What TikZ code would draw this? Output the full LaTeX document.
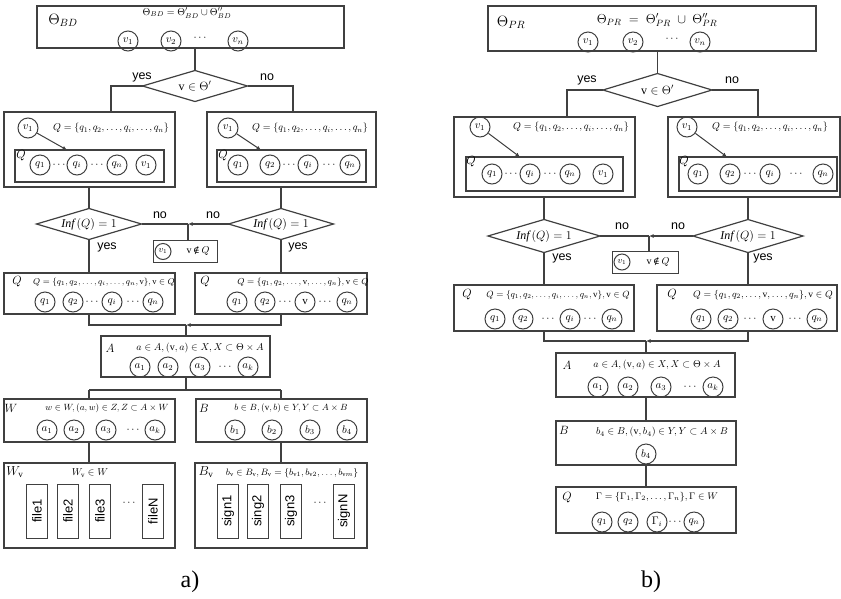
\documentclass[tikz,border=0pt]{standalone}
\usepackage{fix-cm}
\usepackage{graphicx}
\usepackage{fontspec}
\setmainfont{Liberation Serif}
\newfontfamily\arialf{Liberation Sans}
\newfontfamily\djs{DejaVu Serif}
\usetikzlibrary{shapes.geometric,arrows.meta}
\definecolor{linec}{gray}{0.25}
\newcommand{\nelem}{\mathrm{v}\,\mbox{\djs\fontsize{9}{9}\selectfont ∉}\,Q}
\begin{document}
\begin{tikzpicture}[x=1pt,y=-1pt,
  box/.style={draw=linec,line width=1.2pt,inner sep=0,outer sep=0},
  dia/.style={draw=linec,line width=1.2pt,diamond,aspect=3.4,inner sep=0,outer sep=0,font=\fontsize{12}{12}\selectfont},
  cn/.style={draw=linec,line width=1pt,circle,minimum size=20pt,inner sep=0,font=\fontsize{11}{11}\selectfont},
  cs/.style={cn,minimum size=16pt,font=\fontsize{9}{9}\selectfont},
  fm/.style={inner sep=0,font=\fontsize{10}{12}\selectfont},
  fs/.style={inner sep=0,font=\fontsize{9}{11}\selectfont},
  lb/.style={inner sep=0,font=\fontsize{13}{14}\selectfont},
  ql/.style={inner sep=0,font=\fontsize{12}{12}\selectfont},
  big/.style={inner sep=0,font=\fontsize{15}{16}\selectfont},
  yn/.style={inner sep=0,font=\arialf\fontsize{12.5}{13}\selectfont},
  dd/.style={inner sep=0,font=\fontsize{11}{11}\selectfont},
  fb/.style={box,line width=1pt,minimum width=21pt,minimum height=54pt,font=\arialf\fontsize{13}{13}\selectfont},
  ln/.style={draw=linec,line width=1.2pt},
  ar/.style={ln,-{Latex[length=4.5pt,width=4pt]}},
  captxt/.style={inner sep=0,font=\fontsize{24}{24}\selectfont}
]
\useasboundingbox (0,0) rectangle (841,598);

%================ LEFT (a) ================
\node[box,minimum width=307pt,minimum height=42pt] (TL) at (190.5,27) {};
\node[big] (TLlab) at (63,20) {$\Theta_{BD}$};
\node[fm] (TLf) at (187,13) {$\Theta_{BD}=\Theta'_{BD}\cup\Theta''_{BD}$};
\node[cn] (TLv1) at (128,41) {$v_1$};
\node[cn] (TLv2) at (171,41) {$v_2$};
\node[dd] (TLd) at (200,38) {$\cdots$};
\node[cn] (TLvn) at (238,41) {$v_n$};

\node[dia,minimum width=105pt,minimum height=31pt] (D1) at (195,86) {$\mathrm{v}\in\Theta'$};
\draw[ln] (TL.south -| D1.north) -- (D1.north);
\coordinate (yL) at (111,112);
\coordinate (nL) at (293,112);
\draw[ln] (D1.west) -| (yL);
\draw[ln] (D1.east) -| (nL);
\node[yn] (yes1) at (142,77) {yes};
\node[yn] (no1) at (267,77) {no};

\node[box,minimum width=171pt,minimum height=75pt] (Q1L) at (89.5,149.5) {};
\node[box,minimum width=169pt,minimum height=75pt] (Q1R) at (291.5,149.5) {};
\node[box,minimum width=149pt,minimum height=32pt] (I1L) at (89.5,166) {};
\node[box,minimum width=149pt,minimum height=32pt] (I1R) at (291.5,166) {};

\node[cn] (Lv) at (28,128) {$v_1$};
\node[fm] (Lf) at (111,128) {$Q=\{q_1,q_2,\dots,q_i,\dots,q_n\}$};
\coordinate (Lt) at (67,150);
\draw[ar,line width=1pt] (Lv) -- (Lt);
\node[ql] (LQ) at (21,156) {$Q$};
\node[cn] (Lq1) at (40,165) {$q_1$};
\node[dd] (Ld1) at (59,165) {$\cdots$};
\node[cn] (Lqi) at (77,165) {$q_i$};
\node[dd] (Ld2) at (97,165) {$\cdots$};
\node[cn] (Lqn) at (117,165) {$q_n$};
\node[cn] (Lv1) at (146,165) {$v_1$};

\node[cn] (Rv) at (228,128) {$v_1$};
\node[fm] (Rf) at (310,128) {$Q=\{q_1,q_2,\dots,q_i,\dots,q_n\}$};
\coordinate (Rt) at (261,150);
\draw[ar,line width=1pt] (Rv) -- (Rt);
\node[ql] (RQ) at (223,156) {$Q$};
\node[cn] (Rq1) at (238,165) {$q_1$};
\node[cn] (Rq2) at (270,165) {$q_2$};
\node[dd] (Rd1) at (289,165) {$\cdots$};
\node[cn] (Rqi) at (308,165) {$q_i$};
\node[dd] (Rd2) at (329,165) {$\cdots$};
\node[cn] (Rqn) at (350,165) {$q_n$};

\node[dia,minimum width=105pt,minimum height=31pt] (D2L) at (89,224) {$\mathit{Inf}\,(Q)=1$};
\node[dia,minimum width=105pt,minimum height=31pt] (D2R) at (281,224) {$\mathit{Inf}\,(Q)=1$};
\draw[ln] (D2L.north |- Q1L.south) -- (D2L.north);
\draw[ln] (D2R.north |- Q1R.south) -- (D2R.north);
\coordinate (JL) at (188,224);
\node[box,line width=1pt,minimum width=64pt,minimum height=22pt] (SL) at (185,251.5) {};
\node[cs] (SLv) at (163,251.5) {$v_1$};
\node[fm] (SLt) at (198,251.5) {$\nelem$};
\draw[ar] (D2R.west) -- (JL);
\draw[ln] (D2L.east) -- (JL);
\draw[ln] (JL) -- (JL |- SL.north);
\node[yn] (no2) at (160,215) {no};
\node[yn] (no3) at (213,215) {no};
\node[yn] (yes2) at (107,247) {yes};
\node[yn] (yes3) at (298,247) {yes};

\node[box,minimum width=171pt,minimum height=41pt] (Q2L) at (89.5,293.5) {};
\node[box,minimum width=172pt,minimum height=41pt] (Q2R) at (281,293.5) {};
\draw[ln] (D2L.south) -- (D2L.south |- Q2L.north);
\draw[ln] (D2R.south) -- (D2R.south |- Q2R.north);
\node[ql] (Q2Llab) at (17,282) {$Q$};
\node[inner sep=0,font=\fontsize{8.5}{10}\selectfont] (Q2Lf) at (104,282) {$Q=\{q_1,q_2,\dots,q_i,\dots,q_n,\mathrm{v}\},\mathrm{v}\in Q$};
\node[cn] (m1) at (45,302) {$q_1$};
\node[cn] (m2) at (73,302) {$q_2$};
\node[dd] (m3) at (92,302) {$\cdots$};
\node[cn] (m4) at (112,302) {$q_i$};
\node[dd] (m5) at (133,302) {$\cdots$};
\node[cn] (m6) at (153,302) {$q_n$};
\node[ql] (Q2Rlab) at (205,282) {$Q$};
\node[inner sep=0,font=\fontsize{8.7}{10}\selectfont] (Q2Rf) at (303,282) {$Q=\{q_1,q_2,\dots,\mathrm{v},\dots,q_n\},\mathrm{v}\in Q$};
\node[cn] (n1) at (237,302) {$q_1$};
\node[cn] (n2) at (265,302) {$q_2$};
\node[dd] (n3) at (285,302) {$\cdots$};
\node[cn] (n4) at (305,302) {$\mathrm{v}$};
\node[dd] (n5) at (325,302) {$\cdots$};
\node[cn] (n6) at (347,302) {$q_n$};

\node[box,minimum width=169pt,minimum height=41pt] (A) at (185.5,356.5) {};
\coordinate (M1L) at (89,325);
\coordinate (M1R) at (281,325);
\coordinate (MJ) at (186,325);
\draw[ln] (D2L.south |- Q2L.south) -- (M1L) -- (MJ);
\draw[ar] (D2R.south |- Q2R.south) -- (M1R) -- (MJ);
\draw[ln] (MJ) -- (MJ |- A.north);
\node[ql] (Alab) at (110,348) {$A$};
\node[fm] (Af) at (200,348) {$a\in A,(\mathrm{v},a)\in X,X\subset\Theta\times A$};
\node[cn] (a1) at (140,367) {$a_1$};
\node[cn] (a2) at (168,367) {$a_2$};
\node[cn] (a3) at (200,367) {$a_3$};
\node[dd] (a4) at (225,367) {$\cdots$};
\node[cn] (a5) at (248,367) {$a_k$};

\node[box,minimum width=171pt,minimum height=43pt] (W) at (89.5,420.5) {};
\node[box,minimum width=171pt,minimum height=43pt] (B) at (281.5,420.5) {};
\coordinate (S) at (186,390);
\coordinate (S1L) at (89,390);
\coordinate (S1R) at (281,390);
\draw[ln] (MJ |- A.south) -- (S);
\draw[ln] (S1L) -- (S1R);
\draw[ln] (S1L) -- (S1L |- W.north);
\draw[ln] (S1R) -- (S1R |- B.north);
\node[ql] (Wlab) at (11,408) {$W$};
\node[fs] (Wf) at (107,408) {$w\in W,(a,w)\in Z,Z\subset A\times W$};
\node[cn] (w1) at (47,430) {$a_1$};
\node[cn] (w2) at (74,430) {$a_2$};
\node[cn] (w3) at (106,430) {$a_3$};
\node[dd] (w4) at (133,430) {$\cdots$};
\node[cn] (w5) at (155,430) {$a_k$};
\node[ql] (Blab) at (204,408) {$B$};
\node[fs] (Bf) at (291,408) {$b\in B,(\mathrm{v},b)\in Y,Y\subset A\times B$};
\node[cn] (b1) at (235,430) {$b_1$};
\node[cn] (b2) at (272,430) {$b_2$};
\node[cn] (b3) at (310,430) {$b_3$};
\node[cn] (b4) at (347,430) {$b_4$};

\node[box,minimum width=171pt,minimum height=85pt] (Wv) at (89.5,505.5) {};
\node[box,minimum width=172pt,minimum height=85pt] (Bv) at (281,505.5) {};
\draw[ln] (S1L |- W.south) -- (S1L |- Wv.north);
\draw[ln] (S1R |- B.south) -- (S1R |- Bv.north);
\node[lb] (Wvlab) at (15,472) {$W_{\mathrm{v}}$};
\node[fm] (Wvf) at (90,473) {$W_{\mathrm{v}}\in W$};
\node[fb] (f1) at (37,511) {\rotatebox{90}{file1}};
\node[fb] (f2) at (68,511) {\rotatebox{90}{file2}};
\node[fb] (f3) at (100,511) {\rotatebox{90}{file3}};
\node[dd] (f4) at (129,503) {$\cdots$};
\node[fb] (f5) at (153,511) {\rotatebox{90}{fileN}};
\node[lb] (Bvlab) at (206,472) {$B_{\mathrm{v}}$};
\node[inner sep=0,font=\fontsize{9.3}{11}\selectfont] (Bvf) at (292,473) {$b_{\mathrm{v}}\in B_{\mathrm{v}},B_{\mathrm{v}}=\{b_{\mathrm{v}1},b_{\mathrm{v}2},\dots,b_{\mathrm{v}m}\}$};
\node[fb] (s1) at (228,511) {\rotatebox{90}{sign1}};
\node[fb] (s2) at (258,511) {\rotatebox{90}{sing2}};
\node[fb] (s3) at (291,511) {\rotatebox{90}{sign3}};
\node[dd] (s4) at (320,503) {$\cdots$};
\node[fb] (s5) at (344,511) {\rotatebox{90}{signN}};

\node[captxt] (capa) at (190,582) {a)};

%================ RIGHT (b) ================
\node[box,minimum width=328pt,minimum height=45pt] (TR) at (652,28.5) {};
\node[big] (TRlab) at (511,22) {$\Theta_{PR}$};
\node[inner sep=0,font=\fontsize{13}{13}\selectfont] (TRf) at (657,20) {$\Theta_{PR}\;=\;\Theta'_{PR}\;\cup\;\Theta''_{PR}$};
\node[cn] (TRv1) at (588,42) {$v_1$};
\node[cn] (TRv2) at (633,42) {$v_2$};
\node[dd] (TRd) at (672,39) {$\cdots$};
\node[cn] (TRvn) at (700,42) {$v_n$};

\node[dia,minimum width=109pt,minimum height=33pt] (E1) at (657.5,90) {$\mathrm{v}\in\Theta'$};
\draw[ln] (TR.south -| E1.north) -- (E1.north);
\coordinate (yR) at (567,117);
\coordinate (nR) at (758,117);
\draw[ln] (E1.west) -| (yR);
\draw[ln] (E1.east) -| (nR);
\node[yn] (yes4) at (587,80) {yes};
\node[yn] (no4) at (732,80) {no};

\node[box,minimum width=181pt,minimum height=80pt] (P1L) at (544.5,157) {};
\node[box,minimum width=172pt,minimum height=80pt] (P1R) at (754,157) {};
\node[box,minimum width=157pt,minimum height=34pt] (J1L) at (544.5,174) {};
\node[box,minimum width=158pt,minimum height=34pt] (J1R) at (758,174) {};

\node[cn] (PLv) at (480,127) {$v_1$};
\node[fm] (PLf) at (571,127) {$Q=\{q_1,q_2,\dots,q_i,\dots,q_n\}$};
\coordinate (PLt) at (520,157);
\draw[ar,line width=1pt] (PLv) -- (PLt);
\node[ql] (PLQ) at (471,162) {$Q$};
\node[cn] (pl1) at (492,174) {$q_1$};
\node[dd] (pl2) at (511,174) {$\cdots$};
\node[cn] (pl3) at (530,174) {$q_i$};
\node[dd] (pl4) at (550,174) {$\cdots$};
\node[cn] (pl5) at (570,174) {$q_n$};
\node[cn] (pl6) at (603,174) {$v_1$};

\node[cn] (PRv) at (687,127) {$v_1$};
\node[fm] (PRf) at (770,127) {$Q=\{q_1,q_2,\dots,q_i,\dots,q_n\}$};
\coordinate (PRt) at (727,157);
\draw[ar,line width=1pt] (PRv) -- (PRt);
\node[ql] (PRQ) at (684,162) {$Q$};
\node[cn] (pr1) at (698,174) {$q_1$};
\node[cn] (pr2) at (730,174) {$q_2$};
\node[dd] (pr3) at (750,174) {$\cdots$};
\node[cn] (pr4) at (770,174) {$q_i$};
\node[dd] (pr5) at (796,174) {$\cdots$};
\node[cn] (pr6) at (823,174) {$q_n$};

\node[dia,minimum width=112pt,minimum height=33pt] (E2L) at (544,236) {$\mathit{Inf}\,(Q)=1$};
\node[dia,minimum width=110pt,minimum height=33pt] (E2R) at (748,236) {$\mathit{Inf}\,(Q)=1$};
\draw[ln] (E2L.north |- P1L.south) -- (E2L.north);
\draw[ln] (E2R.north |- P1R.south) -- (E2R.north);
\coordinate (JR) at (649,236);
\node[box,line width=1pt,minimum width=66pt,minimum height=22pt] (SR) at (645,262) {};
\node[cs] (SRv) at (622,262) {$v_1$};
\node[fm] (SRt) at (658,262) {$\nelem$};
\draw[ar] (E2R.west) -- (JR);
\draw[ln] (E2L.east) -- (JR);
\draw[ln] (JR) -- (JR |- SR.north);
\node[yn] (no5) at (622,226) {no};
\node[yn] (no6) at (678,226) {no};
\node[yn] (yes5) at (562,258) {yes};
\node[yn] (yes6) at (763,258) {yes};

\node[box,minimum width=180pt,minimum height=46pt] (P2L) at (544,308) {};
\node[box,minimum width=180pt,minimum height=46pt] (P2R) at (747,308) {};
\draw[ln] (E2L.south) -- (E2L.south |- P2L.north);
\draw[ln] (E2R.south) -- (E2R.south |- P2R.north);
\node[ql] (P2Llab) at (467,295) {$Q$};
\node[inner sep=0,font=\fontsize{9}{11}\selectfont] (P2Lf) at (558,295) {$Q=\{q_1,q_2,\dots,q_i,\dots,q_n,\mathrm{v}\},\mathrm{v}\in Q$};
\node[cn] (r1) at (495,319) {$q_1$};
\node[cn] (r2) at (523,319) {$q_2$};
\node[dd] (r3) at (548,319) {$\cdots$};
\node[cn] (r4) at (570,319) {$q_i$};
\node[dd] (r5) at (590,319) {$\cdots$};
\node[cn] (r6) at (612,319) {$q_n$};
\node[ql] (P2Rlab) at (672,295) {$Q$};
\node[inner sep=0,font=\fontsize{9.5}{11}\selectfont] (P2Rf) at (763,295) {$Q=\{q_1,q_2,\dots,\mathrm{v},\dots,q_n\},\mathrm{v}\in Q$};
\node[cn] (t1) at (701,319) {$q_1$};
\node[cn] (t2) at (728,319) {$q_2$};
\node[dd] (t3) at (750,319) {$\cdots$};
\node[cn] (t4) at (773,319) {$\mathrm{v}$};
\node[dd] (t5) at (795,319) {$\cdots$};
\node[cn] (t6) at (817,319) {$q_n$};

\node[box,minimum width=179pt,minimum height=44pt] (RA) at (645.5,375) {};
\coordinate (N1L) at (544,341);
\coordinate (N1R) at (748,341);
\coordinate (NJ) at (646,341);
\draw[ln] (E2L.south |- P2L.south) -- (N1L) -- (NJ);
\draw[ar] (E2R.south |- P2R.south) -- (N1R) -- (NJ);
\draw[ln] (NJ) -- (NJ |- RA.north);
\node[ql] (RAlab) at (567,365) {$A$};
\node[fm] (RAf) at (657,365) {$a\in A,(\mathrm{v},a)\in X,X\subset\Theta\times A$};
\node[cn] (ra1) at (598,387) {$a_1$};
\node[cn] (ra2) at (628,387) {$a_2$};
\node[cn] (ra3) at (661,387) {$a_3$};
\node[dd] (ra4) at (690,387) {$\cdots$};
\node[cn] (ra5) at (713,387) {$a_k$};

\node[box,minimum width=180pt,minimum height=44pt] (RB) at (646,443) {};
\draw[ln] (NJ |- RA.south) -- (NJ |- RB.north);
\node[ql] (RBlab) at (564,430) {$B$};
\node[fm] (RBf) at (662,432) {$b_4\in B,(\mathrm{v},b_4)\in Y,Y\subset A\times B$};
\node[cn] (rb4) at (646,454) {$b_4$};

\node[box,minimum width=180pt,minimum height=46pt] (RQ) at (646,510) {};
\draw[ln] (rb4.south |- RB.south) -- (rb4.south |- RQ.north);
\node[ql] (RQlab) at (567,498) {$Q$};
\node[inner sep=0,font=\fontsize{9.6}{11}\selectfont] (RQf) at (657,497) {$\Gamma=\{\Gamma_1,\Gamma_2,\dots,\Gamma_n\},\Gamma\in W$};
\node[cn] (rq1) at (602,522) {$q_1$};
\node[cn] (rq2) at (628,522) {$q_2$};
\node[cn] (rq3) at (657,522) {$\Gamma_i$};
\node[dd] (rq4) at (675,522) {$\cdots$};
\node[cn] (rq5) at (694,522) {$q_n$};

\node[captxt] (capb) at (651,582) {b)};
\end{tikzpicture}
\end{document}
